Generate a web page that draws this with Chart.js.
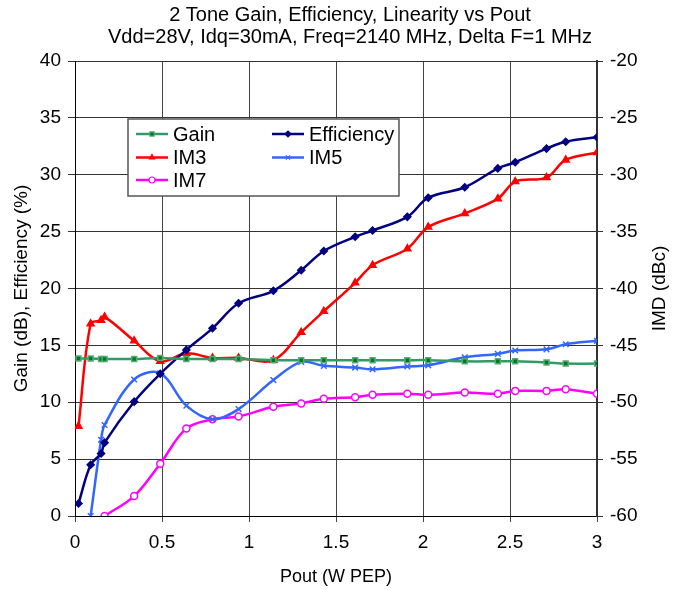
<!DOCTYPE html>
<html>
<head>
<meta charset="utf-8">
<title>2 Tone Gain, Efficiency, Linearity vs Pout</title>
<script src="https://cdn.jsdelivr.net/npm/chart.js@4.4.1/dist/chart.umd.min.js"></script>
<style>
  html, body { margin: 0; padding: 0; background: #fff; }
  #wrap { width: 678px; height: 590px; }
</style>
</head>
<body>
<div id="wrap"><canvas id="twoToneChart" width="678" height="590"></canvas></div>
<script>
// Pout (W PEP) at each measured point
const pout = [0.02, 0.09, 0.15, 0.17, 0.34, 0.49, 0.64, 0.79, 0.94, 1.14, 1.30,
  1.43, 1.61, 1.71, 1.91, 2.03, 2.24, 2.43, 2.53, 2.71, 2.82, 3.0];

// left axis: dB / %
const gain = [13.85, 13.85, 13.8, 13.8, 13.8, 13.9, 13.8, 13.8, 13.8, 13.7, 13.7,
  13.7, 13.7, 13.7, 13.7, 13.7, 13.6, 13.6, 13.6, 13.5, 13.4, 13.4];
const efficiency = [1.1, 4.5, 5.5, 6.45, 10.05, 12.5, 14.6, 16.5, 18.7, 19.8, 21.6,
  23.3, 24.55, 25.1, 26.3, 27.98, 28.9, 30.56, 31.1, 32.3, 32.9, 33.3];

// right axis: IMD (dBc)
const im3 = [-52.1, -43.1, -42.8, -42.5, -44.6, -46.4, -45.7, -46.1, -46.1, -46.3, -43.85,
  -42.0, -39.5, -37.95, -36.5, -34.6, -33.4, -32.1, -30.6, -30.25, -28.7, -28.05];
const im5 = [null, -60, -53.3, -52, -48, -47.45, -50.3, -51.5, -50.6, -48.05, -46.45,
  -46.8, -46.95, -47.1, -46.85, -46.75, -46.05, -45.75, -45.45, -45.35, -44.9, -44.6];
const im7 = [null, null, null, -60, -58.25, -55.4, -52.3, -51.5, -51.25, -50.4, -50.1,
  -49.7, -49.55, -49.35, -49.25, -49.35, -49.15, -49.25, -49.0, -49.0, -48.85, -49.25];

const titleLines = [
  "2 Tone Gain, Efficiency, Linearity vs Pout",
  "Vdd=28V, Idq=30mA, Freq=2140 MHz, Delta F=1 MHz",
];
const rightAxisTitle = "IMD (dBc)";

const FONT = "'Liberation Sans', Arial, sans-serif";

function pts(values) {
  return pout
    .map(function (x, i) { return { x: x, y: values[i] }; })
    .filter(function (p) { return p.y !== null; });
}

function series(label, values, axis, color, style, extra) {
  return Object.assign({
    label: label,
    data: pts(values),
    yAxisID: axis,
    showLine: true,
    borderColor: color,
    backgroundColor: color,
    borderWidth: 2.5,
    tension: 0.35,
    pointStyle: style,
    pointRadius: 4,
    pointBorderColor: color,
    pointBackgroundColor: color,
    pointBorderWidth: 1.5,
  }, extra || {});
}

// title, right axis title and legend box drawn straight onto the canvas
const overlay = {
  id: "overlay",
  afterDraw: function (chart) {
    const ctx = chart.ctx;
    ctx.save();
    ctx.fillStyle = "#000";
    ctx.textAlign = "center";
    ctx.textBaseline = "alphabetic";
    ctx.font = "20px " + FONT;
    ctx.fillText(titleLines[0], 350, 21);
    ctx.fillText(titleLines[1], 350, 43);

    // right axis title, reading bottom to top like the left one
    ctx.save();
    ctx.translate(660, (chart.chartArea.top + chart.chartArea.bottom) / 2);
    ctx.rotate(-Math.PI / 2);
    ctx.textBaseline = "middle";
    ctx.font = "19px " + FONT;
    ctx.fillText(rightAxisTitle, 0, 0);
    ctx.restore();

    // legend
    ctx.fillStyle = "#fff";
    ctx.fillRect(128, 119, 271, 77);
    ctx.strokeStyle = "#555";
    ctx.lineWidth = 1.5;
    ctx.strokeRect(128, 119, 271, 77);

    const slots = [
      [136, 134], [272, 134],
      [136, 157.5], [272, 157.5],
      [136, 180],
    ];
    ctx.textAlign = "left";
    ctx.textBaseline = "middle";
    chart.data.datasets.forEach(function (ds, i) {
      const s = slots[i];
      ctx.strokeStyle = ds.borderColor;
      ctx.lineWidth = 2.5;
      ctx.beginPath();
      ctx.moveTo(s[0], s[1]);
      ctx.lineTo(s[0] + 32, s[1]);
      ctx.stroke();
      ctx.fillStyle = ds.pointBackgroundColor;
      ctx.strokeStyle = ds.pointBorderColor;
      ctx.lineWidth = 1.2;
      Chart.helpers.drawPoint(ctx, { pointStyle: ds.pointStyle, radius: 3, rotation: 0, borderWidth: 1.2 }, s[0] + 16, s[1]);
      ctx.fillStyle = "#000";
      ctx.font = "20px " + FONT;
      ctx.fillText(ds.label, s[0] + 37, s[1] + 1);
    });
    ctx.restore();
  },
};

const ctx = document.getElementById("twoToneChart").getContext("2d");
const twoToneChart = new Chart(ctx, {
  type: "scatter",
  data: {
    datasets: [
      series("Gain", gain, "y", "#339966", "rect", {
        pointBackgroundColor: "#007a1f",
        pointBorderColor: "#55aa77",
        pointRadius: 3.5,
      }),
      series("Efficiency", efficiency, "y", "#000080", "rectRot", { pointRadius: 3.5 }),
      series("IM3", im3, "y1", "#ff0000", "triangle"),
      series("IM5", im5, "y1", "#3366ff", "crossRot", { pointRadius: 4 }),
      series("IM7", im7, "y1", "#ff00ff", "circle", { pointBackgroundColor: "#fff", pointRadius: 3.5 }),
    ],
  },
  options: {
    responsive: false,
    animation: false,
    devicePixelRatio: 1,
    layout: { padding: { top: 61, left: 0, right: 0, bottom: 0 } },
    plugins: {
      legend: { display: false },
      title: { display: false },
      tooltip: { enabled: false },
    },
    scales: {
      x: {
        type: "linear",
        min: 0,
        max: 3,
        ticks: {
          stepSize: 0.5,
          color: "#000",
          font: { family: FONT, size: 19 },
          padding: 9,
          callback: function (value) { return String(value); },
        },
        grid: { color: "#444", lineWidth: 1, tickLength: 6 },
        border: { color: "#000", width: 1 },
        title: { display: true, text: "Pout (W PEP)", color: "#000", font: { family: FONT, size: 18 }, padding: { top: 0, bottom: 2 } },
        afterFit: function (scale) { scale.height = 74; },
      },
      y: {
        position: "left",
        min: 0,
        max: 40,
        ticks: { stepSize: 5, color: "#000", font: { family: FONT, size: 19 }, padding: 7 },
        grid: { color: "#333", lineWidth: 1, tickLength: 7 },
        border: { color: "#000", width: 1 },
        title: { display: true, text: "Gain (dB), Efficiency (%)", color: "#000", font: { family: FONT, size: 19 }, padding: { top: 10, bottom: 0 } },
        afterFit: function (scale) { scale.width = 75; },
      },
      y1: {
        position: "right",
        min: -60,
        max: -20,
        ticks: { stepSize: 5, color: "#000", font: { family: FONT, size: 19 }, padding: 7 },
        grid: { drawOnChartArea: false, color: "#333", tickLength: 6 },
        border: { color: "#333", width: 2 },
        afterFit: function (scale) { scale.width = 81; },
      },
    },
  },
  plugins: [overlay],
});
</script>
</body>
</html>
